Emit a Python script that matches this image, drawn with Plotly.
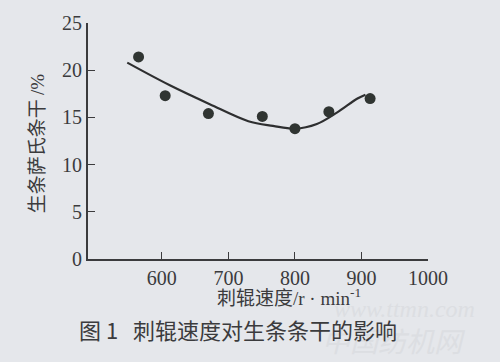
import plotly.graph_objects as go

# measured points
speed = [565, 605, 670, 751, 800, 851, 913]
cv = [21.4, 17.3, 15.4, 15.1, 13.8, 15.6, 17.0]

# fitted curve
curve_x = [548, 612, 672, 730, 767, 800, 833, 863, 894, 906]
curve_y = [20.8, 18.4, 16.4, 14.6, 14.1, 13.8, 14.3, 15.5, 17.0, 17.4]

x_ticks = [600, 700, 800, 900, 1000]
y_ticks = [0, 5, 10, 15, 20, 25]

ink = "#3b3b3d"
serif = "Liberation Serif, DejaVu Serif, serif"
cjk = "Noto Sans CJK SC, sans-serif"

fig = go.Figure()
fig.add_trace(go.Scatter(x=curve_x, y=curve_y, mode="lines",
                         line=dict(color="#2e2f30", width=2.2, shape="spline", smoothing=1.0),
                         hoverinfo="skip", showlegend=False))
fig.add_trace(go.Scatter(x=speed, y=cv, mode="markers",
                         marker=dict(color="#303532", size=11),
                         showlegend=False))

fig.update_layout(
    width=500, height=362,
    margin=dict(l=88, r=72, t=16, b=103),
    paper_bgcolor="#e5e7eb", plot_bgcolor="#e5e7eb",
    font=dict(family=serif, color=ink, size=18),
    xaxis=dict(range=[489, 1000], tickvals=x_ticks, ticks="inside", ticklen=7,
               tickcolor=ink, showline=True, linecolor=ink, linewidth=2,
               showgrid=False, zeroline=False, tickfont=dict(family=serif, size=20, color=ink)),
    yaxis=dict(range=[0, 25], tickvals=y_ticks, ticks="inside", ticklen=7,
               tickcolor=ink, showline=True, linecolor=ink, linewidth=2,
               showgrid=False, zeroline=False, tickfont=dict(family=serif, size=20, color=ink)),
    annotations=[
        dict(text="生条萨氏条干 <span style='font-family:Liberation Serif'>/%</span>",
             x=-0.156, y=0.49, xref="paper", yref="paper",
             xanchor="center", yanchor="middle",
             textangle=-90, showarrow=False, font=dict(family=cjk, size=19, color=ink)),
        dict(text="<i>www.ttmn.com</i>", x=0.93, y=-0.21, xref="paper", yref="paper",
             xanchor="center", yanchor="middle",
             showarrow=False, font=dict(family=serif, size=24, color="#dcdee2")),
        dict(text="<i>中国纺机网</i>", x=0.9, y=-0.345, xref="paper", yref="paper",
             xanchor="center", yanchor="middle",
             showarrow=False, font=dict(family=cjk, size=28, color="#dcdee2")),
        dict(text="刺辊速度<span style='font-family:Liberation Serif'>/r · min<sup>-1</sup></span>",
             x=0.59, y=-0.16, xref="paper", yref="paper",
             xanchor="center", yanchor="middle",
             showarrow=False, font=dict(family=cjk, size=19, color=ink)),
        dict(text="图 1   刺辊速度对生条条干的影响", x=0.44, y=-0.295, xref="paper", yref="paper",
             xanchor="center", yanchor="middle",
             showarrow=False, font=dict(family=cjk, size=22, color=ink)),
    ],
)

fig.write_html("out.html", config={"displayModeBar": False},
               post_script="document.body.style.margin='0';document.body.style.padding='0';")
